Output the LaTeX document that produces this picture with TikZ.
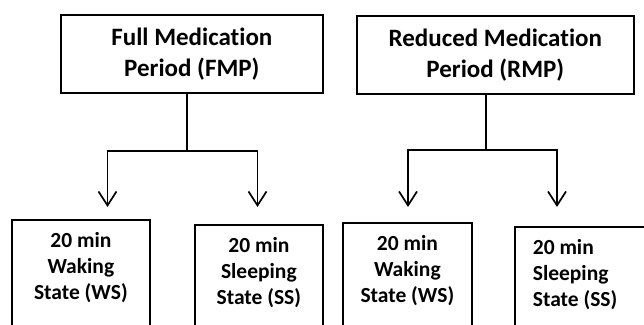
\documentclass[tikz,border=0pt]{standalone}
\usepackage{fontspec}
\setmainfont{Carlito}[Ligatures=NoCommon]
\usetikzlibrary{arrows.meta}
\begin{document}
\begin{tikzpicture}[x=1pt,y=-1pt,
  box/.style={draw, line width=1.7pt, align=center, inner sep=0pt},
  topbox/.style={box, font=\fontsize{25}{31}\selectfont\bfseries, anchor=north west, minimum height=78pt},
  botbox/.style={box, font=\fontsize{21.5}{26}\selectfont\bfseries, anchor=north west, inner ysep=13pt, text depth=80pt},
  link/.style={line width=1.7pt},
  arr/.style={link, -{Straight Barb[length=14pt,width=18pt,line width=1.7pt]}}]
\useasboundingbox (0,0) rectangle (644,324);
\node[topbox, minimum width=262pt] (fmp) at (60,14) {Full Medication\\Period (FMP)};
\node[topbox, minimum width=277pt] (rmp) at (356,15) {Reduced Medication\\Period (RMP)};
\node[botbox, minimum width=138pt] (ws1) at (11,219) {20 min\\Waking\\State (WS)};
\node[botbox, minimum width=128pt] (ss1) at (194,224) {20 min\\Sleeping\\State (SS)};
\node[botbox, minimum width=129pt] (ws2) at (342,222) {20 min\\Waking\\State (WS)};
\node[botbox, align=flush left, inner xsep=18pt, text width=95pt] (ss2) at (514,226) {20 min\\Sleeping\\State (SS)};
\coordinate (j1) at (187,151);
\coordinate (j2) at (486,150);
\coordinate (a1) at (107.5,207);
\coordinate (a2) at (257.5,207);
\coordinate (a3) at (408,207);
\coordinate (a4) at (557,207);
\draw[link] (fmp.south -| j1) -- (j1);
\draw[link] (rmp.south -| j2) -- (j2);
\draw[arr] (j1) -| (a1);
\draw[arr] (j1) -| (a2);
\draw[arr] (j2) -| (a3);
\draw[arr] (j2) -| (a4);
\end{tikzpicture}
\end{document}
